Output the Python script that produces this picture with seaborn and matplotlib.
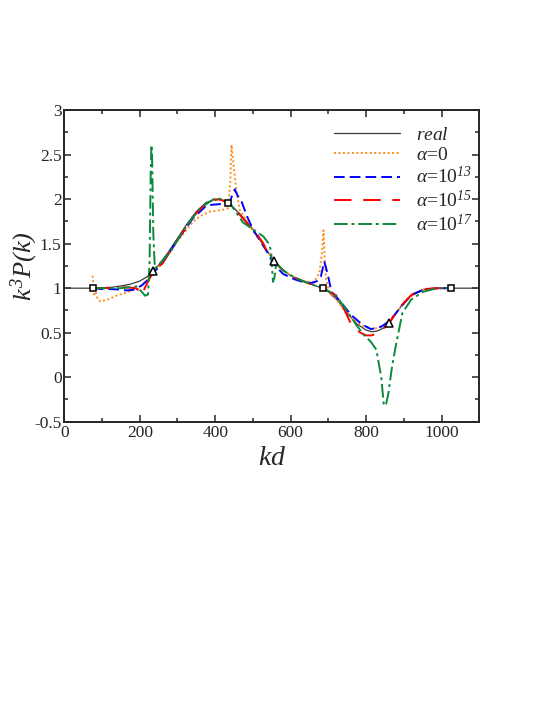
import matplotlib
matplotlib.use("Agg")
import matplotlib.pyplot as plt
import seaborn as sns
import pandas as pd
from matplotlib.ticker import MultipleLocator

# curves (kd, k^3 P(k))
real_x = [0, 75, 100, 125, 150, 175, 200, 220, 235, 250, 275, 300, 325, 350, 375, 400, 420, 435, 450, 475,
          500, 525, 555, 575, 600, 625, 650, 685, 700, 725, 750, 775, 800, 815, 830, 845, 860, 880, 900, 925,
          950, 975, 1025, 1100]
real_y = [1, 1, 1.005, 1.01, 1.025, 1.045, 1.08, 1.13, 1.19, 1.26, 1.4, 1.56, 1.72, 1.86, 1.96, 2.0, 1.99, 1.96, 1.9, 1.79,
          1.66, 1.5, 1.31, 1.22, 1.14, 1.09, 1.05, 1.0, 0.96, 0.86, 0.72, 0.6, 0.53, 0.51, 0.52, 0.55, 0.61, 0.72, 0.84, 0.94,
          0.985, 0.998, 1, 1]

a0_x = [75, 79, 83, 88, 96, 120, 140, 165, 196, 220, 235, 260, 300, 340, 360, 386, 420, 434, 440, 443, 447, 456, 465,
        480, 500, 530, 555, 580, 610, 640, 662, 676, 683, 687, 690, 694, 703, 720, 750, 780, 815, 845, 860, 880, 900,
        925, 950, 975, 1025]
a0_y = [1.14, 0.93, 0.96, 0.88, 0.85, 0.88, 0.92, 0.95, 1.0, 1.09, 1.19, 1.28, 1.53, 1.74, 1.81, 1.86, 1.88, 1.9, 2.2,
        2.61, 2.45, 2.1, 1.88, 1.78, 1.64, 1.48, 1.31, 1.2, 1.12, 1.07, 1.07, 1.17, 1.4, 1.65, 1.35, 1.09, 0.94, 0.88,
        0.7, 0.6, 0.54, 0.57, 0.62, 0.72, 0.84, 0.93, 0.98, 0.995, 1.0]

a13_x = [75, 100, 121, 145, 165, 180, 192, 205, 218, 235, 260, 300, 340, 377, 400, 430, 440, 446, 452, 458, 470, 485,
         500, 518, 540, 555, 580, 610, 640, 657, 670, 680, 689, 698, 708, 730, 760, 790, 813, 841, 864, 890, 919, 951,
         990, 1025]
a13_y = [1.0, 0.99, 0.99, 0.985, 0.975, 0.98, 1.0, 1.03, 1.08, 1.17, 1.28, 1.54, 1.78, 1.93, 1.94, 1.95, 1.98, 2.06,
         2.11, 2.05, 1.97, 1.8, 1.66, 1.54, 1.39, 1.27, 1.16, 1.1, 1.06, 1.06, 1.08, 1.13, 1.3, 1.16, 0.96, 0.86, 0.7,
         0.59, 0.54, 0.57, 0.64, 0.78, 0.92, 0.98, 1.0, 1.0]

a15_x = [75, 100, 130, 160, 190, 200, 205, 209, 213, 225, 235, 260, 300, 340, 380, 410, 440, 470, 492, 510, 528, 542,
         555, 580, 610, 650, 685, 720, 740, 763, 785, 800, 815, 832, 850, 865, 890, 919, 951, 990, 1025]
a15_y = [1.0, 1.0, 1.005, 1.01, 1.0, 0.96, 0.92, 0.95, 1.0, 1.1, 1.18, 1.28, 1.54, 1.8, 1.97, 2.0, 1.95, 1.8, 1.69,
         1.61, 1.5, 1.35, 1.3, 1.2, 1.12, 1.05, 1.0, 0.92, 0.78, 0.57, 0.5, 0.47, 0.47, 0.5, 0.56, 0.63, 0.79, 0.92,
         0.99, 1.0, 1.0]

a17_x = [75, 100, 150, 192, 205, 214, 222, 226, 229, 231, 233, 236, 240, 250, 280, 320, 360, 400, 420, 440, 473, 500,
         528, 542, 548, 553, 557, 562, 580, 610, 650, 685, 720, 750, 775, 795, 812, 827, 840, 847, 853, 859, 868, 878,
         896, 919, 951, 988, 1025]
a17_y = [1.0, 1.0, 1.0, 1.02, 0.96, 0.915, 0.93, 1.3, 2.3, 2.61, 2.4, 1.6, 1.22, 1.26, 1.4, 1.68, 1.9, 2.01, 2.0, 1.95,
         1.74, 1.66, 1.58, 1.5, 1.42, 1.07, 1.12, 1.28, 1.2, 1.12, 1.05, 1.0, 0.92, 0.74, 0.58, 0.47, 0.4, 0.31, 0.0,
         -0.32, -0.3, -0.18, 0.1, 0.34, 0.72, 0.87, 0.96, 1.0, 1.0]

# sample points on the real curve
sq_x = [75, 435, 685, 1025]
sq_y = [1.0, 1.96, 1.0, 1.0]
tri_x = [235, 555, 860]
tri_y = [1.19, 1.31, 0.61]

sns.set_style("ticks")
plt.rcParams['font.family'] = ['Liberation Serif', 'DejaVu Serif']
plt.rcParams['mathtext.fontset'] = 'custom'
plt.rcParams['mathtext.rm'] = 'Liberation Serif:italic'
plt.rcParams['mathtext.it'] = 'Liberation Serif:italic'

fig = plt.figure(figsize=(5.45, 7.05), dpi=100)
ax = fig.add_axes([0.118, 0.4018, 0.7615, 0.442])

series = [
    (real_x, real_y, r'$real$', '#3a3a3a', 0.9, ''),
    (a0_x, a0_y, r'$\alpha$=0', '#ff8c1a', 1.4, (1, 1.3)),
    (a13_x, a13_y, r'$\alpha$=10$^{13}$', '#0000ff', 1.4, (5.5, 2.6)),
    (a15_x, a15_y, r'$\alpha$=10$^{15}$', '#ff0000', 1.4, (9, 6)),
    (a17_x, a17_y, r'$\alpha$=10$^{17}$', '#0a8a3c', 1.4, (7, 2, 1.5, 2)),
]
for xs, ys, lab, col, lw, dash in series:
    df = pd.DataFrame({'kd': xs, 'p': ys})
    sns.lineplot(data=df, x='kd', y='p', ax=ax, color=col, lw=lw, label=lab)
    if dash:
        ax.lines[-1].set_dashes(dash)

ax.plot(sq_x, sq_y, ls='none', marker='s', ms=5, mfc='white', mec='black', mew=1.1)
ax.plot(tri_x, tri_y, ls='none', marker='^', ms=5.5, mfc='white', mec='black', mew=1.1)

ax.set_xlim(0, 1100)
ax.set_ylim(-0.5, 3)
ax.xaxis.set_major_locator(MultipleLocator(200))
ax.xaxis.set_minor_locator(MultipleLocator(100))
ax.yaxis.set_minor_locator(MultipleLocator(0.25))
ax.set_yticks([-0.5, 0, 0.5, 1, 1.5, 2, 2.5, 3])
ax.set_yticklabels(['-0.5', '0', '0.5', '1', '1.5', '2', '2.5', '3'])
ax.tick_params(which='both', direction='in', top=True, right=True, labelsize=12.5, width=1.1, pad=2)
ax.tick_params(which='major', length=5)
ax.tick_params(which='minor', length=3)
for sp in ax.spines.values():
    sp.set_linewidth(1.4)

ax.set_xlabel(r'$kd$', fontsize=20, labelpad=4)
ax.set_ylabel(r'$k^3P(k)$', fontsize=19, labelpad=-4)

ax.legend(loc='upper right', bbox_to_anchor=(1.012, 0.985), frameon=False, fontsize=14,
          handlelength=3.4, handletextpad=0.8, labelspacing=0.12, borderaxespad=0.2)

fig.savefig('out.png', dpi=100)
